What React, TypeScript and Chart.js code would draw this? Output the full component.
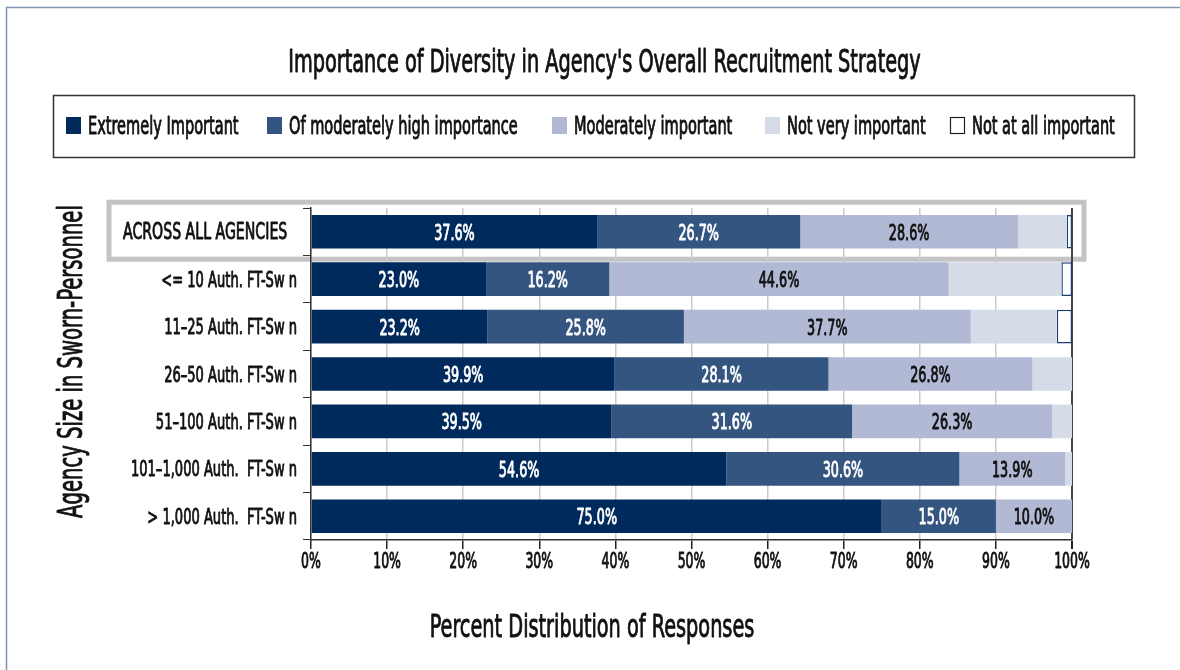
import React, { useEffect, useRef } from 'react';
import { Chart, registerables } from 'chart.js';

Chart.register(...registerables);

const chartTitle = "Importance of Diversity in Agency's Overall Recruitment Strategy";
const xAxisTitle = 'Percent Distribution of Responses';
const yAxisTitle = 'Agency Size in Sworn-Personnel';

const categories = [
  'ACROSS ALL AGENCIES',
  '<= 10 Auth. FT-Sw n',
  '11\u201325 Auth. FT-Sw n',
  '26\u201350 Auth. FT-Sw n',
  '51\u2013100 Auth. FT-Sw n',
  '101\u20131,000 Auth.  FT-Sw n',
  '> 1,000 Auth.  FT-Sw n',
];

const seriesNames = [
  'Extremely Important',
  'Of moderately high importance',
  'Moderately important',
  'Not very important',
  'Not at all important',
];

const extremelyImportant = [37.6, 23.0, 23.2, 39.9, 39.5, 54.6, 75.0];
const moderatelyHigh = [26.7, 16.2, 25.8, 28.1, 31.6, 30.6, 15.0];
const moderatelyImportant = [28.6, 44.6, 37.7, 26.8, 26.3, 13.9, 10.0];
const notVeryImportant = [6.4, 14.8, 11.3, 5.2, 2.6, 0.9, 0];
const notAtAllImportant = [0.7, 1.4, 2.0, 0, 0, 0, 0];

const xTickValues = [0, 10, 20, 30, 40, 50, 60, 70, 80, 90, 100];

const seriesColors = ['#012a5c', '#33557f', '#b1b9d4', '#d6dce7', '#ffffff'];
const labelColors = ['#ffffff', '#ffffff', '#111111'];

const FONT = "'Liberation Sans Narrow', 'Arial Narrow', 'DejaVu Sans Condensed', 'Roboto Condensed', 'Liberation Sans', sans-serif";
const SX = 0.66; // horizontal condensing of text

function drawText(ctx: CanvasRenderingContext2D, text: string, x: number, y: number, size: number, align: CanvasTextAlign, color: string, rotate = 0) {
  ctx.save();
  ctx.font = `${size}px ${FONT}`;
  ctx.fillStyle = color;
  ctx.strokeStyle = color;
  ctx.lineWidth = 0.9;
  ctx.lineJoin = 'round';
  ctx.textAlign = align;
  ctx.textBaseline = 'alphabetic';
  ctx.translate(x, y);
  if (rotate) ctx.rotate(rotate);
  ctx.scale(SX, 1);
  ctx.fillText(text, 0, 0);
  ctx.strokeText(text, 0, 0);
  ctx.restore();
}

const decorPlugin = {
  id: 'decor',
  beforeDraw(chart: any) {
    const ctx = chart.ctx;
    ctx.save();
    ctx.fillStyle = '#ffffff';
    ctx.fillRect(0, 0, chart.width, chart.height);
    // outer frame (top and left)
    ctx.strokeStyle = '#7f93b3';
    ctx.lineWidth = 1.5;
    ctx.beginPath();
    ctx.moveTo(6.5, chart.height);
    ctx.lineTo(6.5, 7.5);
    ctx.lineTo(chart.width, 7.5);
    ctx.stroke();
    // highlight box around first category
    const ys = chart.scales.y;
    const cy = ys.getPixelForValue(0);
    ctx.strokeStyle = '#c4c4c4';
    ctx.lineWidth = 5;
    ctx.strokeRect(109, cy - 29.5, 975, 57);
    ctx.restore();
  },
  afterDatasetsDraw(chart: any) {
    const ctx = chart.ctx;
    for (let d = 0; d < 3; d++) {
      const meta = chart.getDatasetMeta(d);
      const data = chart.data.datasets[d].data as number[];
      meta.data.forEach((el: any, i: number) => {
        const v = data[i];
        if (!v) return;
        const p = el.getCenterPoint();
        drawText(ctx, v.toFixed(1) + '%', p.x, p.y + 8, 21.5, 'center', labelColors[d]);
      });
    }
  },
  afterDraw(chart: any) {
    const ctx = chart.ctx;
    // title
    drawText(ctx, chartTitle, 604.5, 71.5, 32.5, 'center', '#111111');

    // legend box
    ctx.save();
    ctx.strokeStyle = '#333333';
    ctx.lineWidth = 1.5;
    ctx.strokeRect(53.5, 95.5, 1081, 62);
    const legendX = [66, 267, 552, 765, 950];
    chart.data.datasets.forEach((ds: any, i: number) => {
      const x = legendX[i];
      ctx.fillStyle = ds.backgroundColor;
      ctx.fillRect(x, 117, 15, 17);
      if (i === 4) {
        ctx.strokeStyle = '#222222';
        ctx.lineWidth = 1.2;
        ctx.strokeRect(x + 0.5, 117.5, 14, 16);
      }
      drawText(ctx, ds.label, x + 22, 134, 24.5, 'left', '#111111');
    });
    ctx.restore();

    // category labels (y axis)
    const ys = chart.scales.y;
    categories.forEach((c, i) => {
      const cy = ys.getPixelForTick(i);
      if (i === 0) drawText(ctx, c, 123, cy + 7.5, 23.8, 'left', '#111111');
      else drawText(ctx, c, ys.right - 14, cy + 7.5, 22, 'right', '#111111');
    });

    // x tick labels
    const xs = chart.scales.x;
    xs.ticks.forEach((t: any, i: number) => {
      drawText(ctx, `${t.value}%`, xs.getPixelForTick(i), xs.top + 28, 21, 'center', '#111111');
    });

    // axis titles
    drawText(ctx, xAxisTitle, 592, 637, 32.5, 'center', '#111111');
    drawText(ctx, yAxisTitle, 82, 361.5, 33, 'center', '#111111', -Math.PI / 2);
  },
};

export default function App() {
  const canvasRef = useRef<HTMLCanvasElement | null>(null);

  useEffect(() => {
    if (!canvasRef.current) return;
    Chart.defaults.font.family = FONT;
    const series = [extremelyImportant, moderatelyHigh, moderatelyImportant, notVeryImportant, notAtAllImportant];
    const chart = new Chart(canvasRef.current, {
      type: 'bar',
      data: {
        labels: categories,
        datasets: series.map((vals, i) => ({
          label: seriesNames[i],
          data: vals,
          backgroundColor: seriesColors[i],
          borderColor: i === 4 ? '#1f3f6e' : seriesColors[i],
          borderWidth: i === 4 ? ((c: any) => (c.raw > 0 ? 1.5 : 0)) : 0,
          borderSkipped: false,
          barPercentage: 0.71,
          categoryPercentage: 1,
        })),
      },
      options: {
        indexAxis: 'y',
        responsive: false,
        animation: false,
        devicePixelRatio: 1,
        layout: { padding: { top: 208, right: 108, left: 0, bottom: 0 } },
        plugins: {
          legend: { display: false },
          title: { display: false },
          tooltip: { enabled: false },
        },
        scales: {
          x: {
            stacked: true,
            min: 0,
            max: 100,
            afterFit(s: any) { s.height = 130; },
            afterBuildTicks(s: any) { s.ticks = xTickValues.map((v) => ({ value: v })); },
            ticks: { display: false, autoSkip: false },
            grid: {
              color: (c: any) => (c.tick && c.tick.value === 100 ? '#444444' : '#cbcbcb'),
              lineWidth: (c: any) => (c.tick && c.tick.value === 100 ? 2 : 1.5),
              tickColor: '#222222',
              tickLength: 9,
            },
            border: { color: '#333333', width: 1.5 },
          },
          y: {
            stacked: true,
            afterFit(s: any) { s.width = 311; },
            ticks: { display: false, autoSkip: false },
            grid: { drawOnChartArea: false, tickLength: 8, color: '#333333', offset: true },
            border: { color: '#333333', width: 1.5 },
          },
        },
      },
      plugins: [decorPlugin],
    } as any);
    return () => chart.destroy();
  }, []);

  return (
    <div style={{ position: 'absolute', left: 0, top: 0, width: 1180, height: 670, background: '#fff' }}>
      <canvas ref={canvasRef} width={1180} height={670} style={{ width: 1180, height: 670, display: 'block' }} />
    </div>
  );
}
